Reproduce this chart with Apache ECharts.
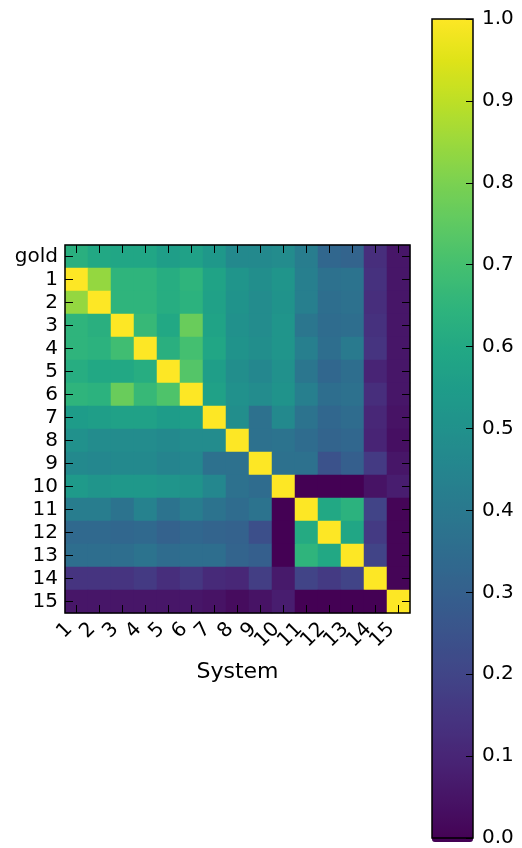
<!DOCTYPE html>
<html>
<head>
<meta charset="utf-8">
<title>System similarity</title>
<script src="https://cdn.jsdelivr.net/npm/echarts@6/dist/echarts.min.js"></script>
<style>
  html, body { margin: 0; padding: 0; background: #fff; }
  #chart { width: 522px; height: 848px; }
</style>
</head>
<body>
<div id="chart"></div>
<script>
// Column systems (x axis) and row labels (y axis, "gold" reference on top)
const systems = ['1','2','3','4','5','6','7','8','9','10','11','12','13','14','15'];
const rowLabels = ['gold','1','2','3','4','5','6','7','8','9','10','11','12','13','14','15'];

// Pairwise similarity, one array per row
const rowGold = [0.63,0.60,0.59,0.59,0.56,0.57,0.53,0.47,0.47,0.48,0.42,0.33,0.32,0.13,0.06];
const row1  = [1.00,0.84,0.65,0.65,0.62,0.65,0.58,0.52,0.49,0.52,0.43,0.37,0.38,0.14,0.06];
const row2  = [0.84,1.00,0.65,0.65,0.62,0.64,0.57,0.51,0.48,0.51,0.43,0.36,0.37,0.13,0.06];
const row3  = [0.65,0.63,1.00,0.67,0.60,0.77,0.58,0.50,0.48,0.52,0.39,0.35,0.36,0.14,0.06];
const row4  = [0.65,0.64,0.69,1.00,0.63,0.70,0.59,0.51,0.49,0.52,0.43,0.36,0.41,0.15,0.06];
const row5  = [0.62,0.60,0.60,0.62,1.00,0.73,0.56,0.49,0.46,0.50,0.39,0.33,0.36,0.10,0.06];
const row6  = [0.65,0.64,0.77,0.67,0.72,1.00,0.57,0.50,0.48,0.51,0.43,0.36,0.37,0.13,0.06];
const row7  = [0.55,0.56,0.57,0.57,0.55,0.56,1.00,0.49,0.37,0.47,0.38,0.33,0.35,0.11,0.05];
const row8  = [0.50,0.48,0.48,0.48,0.47,0.48,0.48,1.00,0.37,0.38,0.35,0.32,0.33,0.10,0.04];
const row9  = [0.47,0.46,0.47,0.47,0.45,0.46,0.37,0.37,1.00,0.37,0.37,0.25,0.30,0.17,0.06];
const row10 = [0.54,0.52,0.53,0.53,0.52,0.51,0.46,0.37,0.35,1.00,0.00,0.00,0.00,0.05,0.08];
const row11 = [0.42,0.42,0.38,0.44,0.38,0.42,0.38,0.35,0.38,0.00,1.00,0.60,0.64,0.20,0.01];
const row12 = [0.34,0.34,0.33,0.34,0.31,0.33,0.32,0.31,0.24,0.00,0.61,1.00,0.59,0.17,0.01];
const row13 = [0.36,0.36,0.36,0.38,0.35,0.36,0.36,0.32,0.30,0.00,0.65,0.60,1.00,0.20,0.01];
const row14 = [0.15,0.15,0.15,0.17,0.13,0.16,0.12,0.11,0.18,0.07,0.20,0.17,0.20,1.00,0.01];
const row15 = [0.06,0.06,0.06,0.06,0.06,0.06,0.05,0.03,0.05,0.08,0.00,0.00,0.00,0.00,1.00];

// Colour bar tick values
const barTicks = [0,0.1,0.2,0.3,0.4,0.5,0.6,0.7,0.8,0.9,1.0];

const rows = [rowGold,row1,row2,row3,row4,row5,row6,row7,row8,row9,row10,row11,row12,row13,row14,row15];

// Viridis colour map stops (0 -> 1)
const viridis = ['#440154','#471365','#482475','#463480','#414487','#3b528b','#355f8d',
  '#2f6c8e','#2a788e','#25848e','#21918c','#1e9c89','#22a884','#2fb47c','#44bf70',
  '#5ec962','#7ad151','#9bd93c','#bddf26','#dfe318','#fde725'];

const cells = [];
rows.forEach((r, yi) => r.forEach((v, xi) => cells.push([xi, yi, v])));

const FONT = 'DejaVu Sans';
const tickStyle = { show: true, inside: true, length: 8, alignWithLabel: true, interval: 0,
  lineStyle: { color: '#000', width: 1 } };

const chart = echarts.init(document.getElementById('chart'), null, { renderer: 'canvas' });
chart.setOption({
  animation: false,
  backgroundColor: '#fff',
  textStyle: { fontFamily: FONT, color: '#000' },
  grid: [
    { left: 65, top: 245, width: 345, height: 368, show: true, z: 10,
      backgroundColor: 'transparent', borderColor: '#000', borderWidth: 1.5 },
    { left: 432, top: 19, width: 41, height: 823, show: true, z: 10,
      backgroundColor: 'transparent', borderColor: '#000', borderWidth: 1.5 }
  ],
  xAxis: [
    { type: 'category', gridIndex: 0, data: systems, position: 'bottom', z: 10,
      axisLine: { show: false }, axisTick: tickStyle, splitLine: { show: false },
      axisLabel: { interval: 0, hideOverlap: false, rotate: 45, margin: 6, fontSize: 20,
        padding: [0, 10, 0, 0], color: '#000', fontFamily: FONT },
      name: 'System', nameLocation: 'middle', nameGap: 48,
      nameTextStyle: { fontSize: 22, color: '#000', fontFamily: FONT } },
    { type: 'category', gridIndex: 0, data: systems, position: 'top', z: 10,
      axisLine: { show: false }, axisTick: tickStyle, axisLabel: { show: false },
      splitLine: { show: false } },
    { type: 'category', gridIndex: 1, data: [''], show: false }
  ],
  yAxis: [
    { type: 'category', gridIndex: 0, data: rowLabels, inverse: true, position: 'left', z: 10,
      axisLine: { show: false }, axisTick: tickStyle, splitLine: { show: false },
      axisLabel: { interval: 0, hideOverlap: false, margin: 7, fontSize: 20,
        color: '#000', fontFamily: FONT } },
    { type: 'category', gridIndex: 0, data: rowLabels, inverse: true, position: 'right', z: 10,
      axisLine: { show: false }, axisTick: tickStyle, axisLabel: { show: false },
      splitLine: { show: false } },
    { type: 'value', gridIndex: 1, position: 'right', min: 0, max: 1, interval: 0.1, z: 10,
      axisLine: { show: false }, splitLine: { show: false },
      axisTick: { show: true, inside: true, length: 7, lineStyle: { color: '#000', width: 1 } },
      axisLabel: { margin: 9, fontSize: 20, color: '#000', fontFamily: FONT,
        customValues: barTicks, formatter: v => v.toFixed(1) } }
  ],
  visualMap: {
    type: 'continuous', min: 0, max: 1, seriesIndex: 0,
    orient: 'vertical', left: 432, top: 19, itemWidth: 41, itemHeight: 823,
    padding: 0, calculable: false, realtime: false, hoverLink: false,
    text: null, showLabel: false,
    inRange: { color: viridis }
  },
  series: [{
    type: 'heatmap', xAxisIndex: 0, yAxisIndex: 0, data: cells,
    itemStyle: { borderWidth: 0 }, emphasis: { disabled: true }
  }]
});
</script>
</body>
</html>
